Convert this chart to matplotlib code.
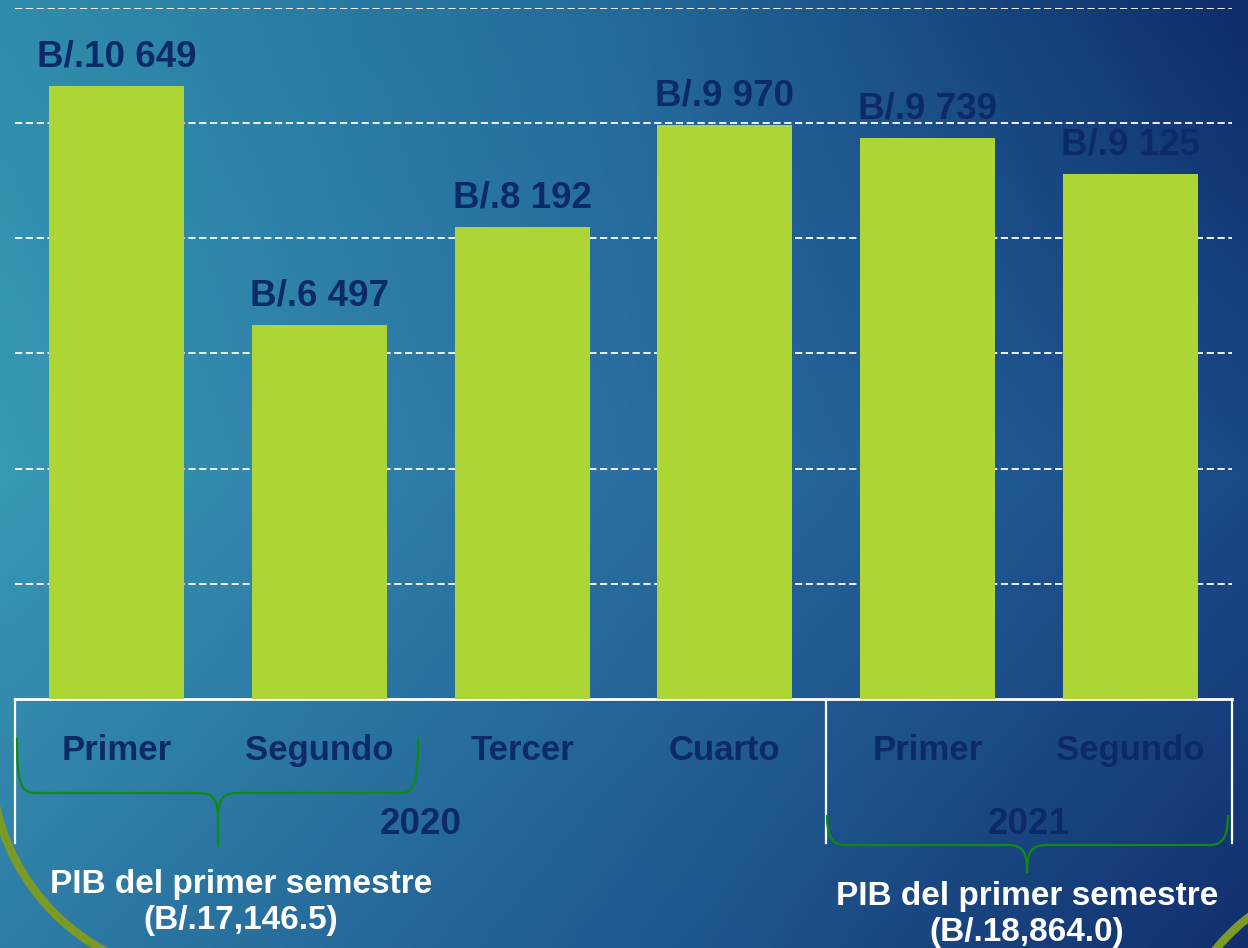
import matplotlib.pyplot as plt
import numpy as np
from matplotlib.path import Path
from matplotlib.patches import PathPatch, Arc
from matplotlib.colors import to_rgb

# data
quarters = ['Primer', 'Segundo', 'Tercer', 'Cuarto', 'Primer', 'Segundo']
values = [10649, 6497, 8192, 9970, 9739, 9125]
years = ['2020', '2021']
year_groups = [[0, 1, 2, 3], [4, 5]]
semester_notes = ['PIB del primer semestre\n(B/.17,146.5)',
                  'PIB del primer semestre\n(B/.18,864.0)']

W, H = 1248, 948
bar_color = '#ADD535'
navy = '#0C2A68'
font = 'Liberation Sans'

fig = plt.figure(figsize=(W / 100, H / 100), dpi=100)

# background gradient
anchors = np.array([[to_rgb(c) for c in row] for row in [
    ['#2F8DAB', '#236A9B', '#0E2C6B'],
    ['#3799B4', '#2A6FA0', '#1A4A88'],
    ['#2E7DA6', '#1F5A92', '#12306E']]])
ny, nx = 95, 125
gy = np.linspace(0, 2, ny)
gx = np.linspace(0, 2, nx)
img = np.zeros((ny, nx, 3))
for i, yy in enumerate(gy):
    r0 = min(int(yy), 1)
    fy = yy - r0
    row = anchors[r0] * (1 - fy) + anchors[r0 + 1] * fy
    for c in range(3):
        img[i, :, c] = np.interp(gx, [0, 1, 2], row[:, c])
bg = fig.add_axes([0, 0, 1, 1], zorder=0)
bg.imshow(img, extent=[0, W, H, 0], aspect='auto', interpolation='bicubic')
bg.set_xlim(0, W)
bg.set_ylim(H, 0)
bg.axis('off')

# main chart
ax = fig.add_axes([15 / W, (H - 699) / H, (1232 - 15) / W, (699 - 8) / H], zorder=2)
ax.patch.set_alpha(0)
x = np.arange(len(values))
bars = ax.bar(x, values, width=0.665, color=bar_color, zorder=3)
ax.set_xlim(-0.5, len(values) - 0.5)
ax.set_ylim(0, 12000)
ax.set_yticks(np.arange(2000, 12001, 2000))
ax.tick_params(axis='y', length=0, labelleft=False)
ax.yaxis.grid(True, color='white', linestyle=(0, (4, 2)), linewidth=1.3)
ax.set_axisbelow(True)
for s in ['top', 'left', 'right']:
    ax.spines[s].set_visible(False)
ax.spines['bottom'].set_color('white')
ax.spines['bottom'].set_linewidth(2)

ax.set_xticks(x, labels=quarters)
ax.tick_params(axis='x', length=0, pad=25)
for t in ax.get_xticklabels():
    t.set_fontfamily(font)
    t.set_fontweight('bold')
    t.set_fontsize(25)
    t.set_color(navy)

for xi, v in zip(x, values):
    ax.annotate('B/.{:,}'.format(v).replace(',', ' '), (xi, v),
                xytext=(0, 14), textcoords='offset points', ha='center',
                va='baseline', fontsize=26.5, fontweight='bold',
                family=font, color=navy)

# table lines and year labels
trans = ax.get_xaxis_transform()
for xb in [-0.5, 3.5, 5.5]:
    ax.plot([xb, xb], [0, -0.208], transform=trans, color='white',
            lw=1.6, clip_on=False, zorder=4)
for yr, grp in zip(years, year_groups):
    ax.text(np.mean(grp), -0.195, yr, transform=trans, ha='center',
            va='baseline', fontsize=26.5, fontweight='bold', family=font,
            color=navy)

# overlay: braces, notes, decorative arcs
ov = fig.add_axes([0, 0, 1, 1], zorder=5)
ov.set_xlim(0, W)
ov.set_ylim(H, 0)
ov.axis('off')


def brace(x0, x1, ytop, ymid, ytip, xc):
    verts = [(x0, ytop), (x0, ymid - 12), (x0 + 3, ymid), (x0 + 18, ymid),
             (xc - 20, ymid),
             (xc - 3, ymid), (xc, ymid + 8), (xc, ymid + 28),
             (xc, ytip)]
    codes = [Path.MOVETO, Path.CURVE4, Path.CURVE4, Path.CURVE4,
             Path.LINETO,
             Path.CURVE4, Path.CURVE4, Path.CURVE4,
             Path.LINETO]
    verts2 = [(x1, ytop), (x1, ymid - 12), (x1 - 3, ymid), (x1 - 18, ymid),
              (xc + 20, ymid),
              (xc + 3, ymid), (xc, ymid + 8), (xc, ymid + 28)]
    codes2 = [Path.MOVETO, Path.CURVE4, Path.CURVE4, Path.CURVE4,
              Path.LINETO,
              Path.CURVE4, Path.CURVE4, Path.CURVE4]
    p = Path(verts + verts2, codes + codes2)
    ov.add_patch(PathPatch(p, fill=False, edgecolor='#0F8A12', lw=1.6))


brace(17, 418, 738, 793, 847, 218)
brace(827, 1228, 815, 845, 873, 1027)

ov.text(241, 929, semester_notes[0], ha='center', va='baseline',
        fontsize=24, fontweight='bold', family=font, color='white',
        linespacing=1.2)
ov.text(1027, 941, semester_notes[1], ha='center', va='baseline',
        fontsize=24, fontweight='bold', family=font, color='white',
        linespacing=1.2)

ov.add_patch(Arc((208, 760), 434, 434, theta1=100, theta2=170,
                 color='#7C9A26', lw=6))
ov.add_patch(Arc((1375, 1080), 412, 412, theta1=200, theta2=240,
                 color='#7C9A26', lw=6))

fig.savefig('out.png', dpi=100)
